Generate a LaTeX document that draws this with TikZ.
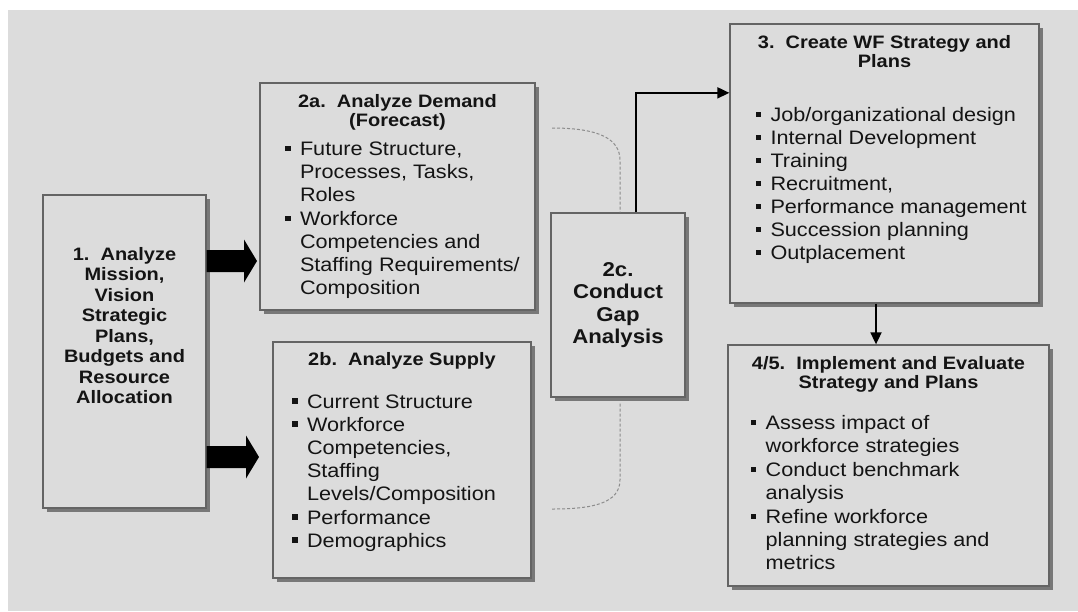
\documentclass[tikz,border=0pt]{standalone}
\usepackage{fontspec}
\setmainfont{Liberation Sans}[FakeStretch=1.11]
\usetikzlibrary{arrows.meta,calc,shadows}
\definecolor{bggray}{RGB}{220,220,220}
\definecolor{edgegray}{RGB}{100,100,100}
\definecolor{shadowgray}{RGB}{120,120,120}
\definecolor{dashgray}{RGB}{140,140,140}
\definecolor{inkgray}{RGB}{20,20,20}
\newcommand{\titlefont}{\fontsize{18}{19.5}\selectfont\bfseries}
\newcommand{\bodyfont}{\fontsize{19.5}{23}\selectfont}
\newcommand{\wfbullet}{\makebox[15pt][l]{\raisebox{4.2pt}{\rule{5.5pt}{5.5pt}}}}
\newcommand{\wfitem}[1]{\noindent\wfbullet\begin{tabular}[t]{@{}l@{}}#1\end{tabular}\par}
\begin{document}
\begin{tikzpicture}[x=1pt,y=-1pt,text=inkgray,
  wfbox/.style={draw=edgegray, line width=1.3pt, fill=bggray, inner sep=0pt,
    drop shadow={shadow xshift=4pt, shadow yshift=-4pt, fill=shadowgray, opacity=1}},
  flow/.style={draw=black, line width=1.8pt, -{Triangle[length=12pt,width=11pt]}},
  gapline/.style={draw=dashgray, line width=1pt, dash pattern=on 3pt off 2pt},
  bigarrow/.style={fill=black}]
\useasboundingbox (0,0) rectangle (1078,611);
\fill[white] (0,0) rectangle (1078,611);
\fill[bggray] (8,10) rectangle (1078,611);
% boxes
\node[wfbox] (mission) at (124.5,351.5) {\parbox[c][313pt][t]{163pt}{\titlefont\fontsize{18}{20.5}\selectfont\centering
  \rule{0pt}{65pt}1.\ \ Analyze\\Mission,\\Vision\\Strategic\\Plans,\\Budgets and\\Resource\\Allocation\par}};
\node[wfbox] (demand) at (397.5,196.5) {\parbox[c][227pt][t]{275pt}{%
  {\titlefont\centering\rule{0pt}{24pt}2a.\ \ Analyze Demand\\(Forecast)\par}
  \vspace{6pt}
  \bodyfont\raggedright\leftskip=25pt
  \wfitem{Future Structure,\\Processes, Tasks,\\Roles}
  \wfitem{Workforce\\Competencies and\\Staffing Requirements/\\Composition}}};
\node[wfbox] (supply) at (402,460) {\parbox[c][236pt][t]{258pt}{%
  {\titlefont\centering\rule{0pt}{23pt}2b.\ \ Analyze Supply\par}
  \vspace{20pt}
  \bodyfont\raggedright\leftskip=19pt
  \wfitem{Current Structure}
  \wfitem{Workforce\\Competencies,\\Staffing\\Levels/Composition}
  \wfitem{Performance}
  \wfitem{Demographics}}};
\node[wfbox, minimum width=134pt, minimum height=184pt, align=center,
  font=\fontsize{20}{22.5}\selectfont\bfseries] (gap) at (618,305) {2c.\\Conduct\\Gap\\Analysis};
\node[wfbox] (wf) at (884.5,163.5) {\parbox[c][279pt][t]{309pt}{%
  {\titlefont\centering\rule{0pt}{24pt}3.\ \ Create WF Strategy and\\Plans\par}
  \vspace{31pt}
  \bodyfont\raggedright\leftskip=25.5pt
  \wfitem{Job/organizational design}
  \wfitem{Internal Development}
  \wfitem{Training}
  \wfitem{Recruitment,}
  \wfitem{Performance management}
  \wfitem{Succession planning}
  \wfitem{Outplacement}}};
\node[wfbox] (impl) at (888.5,465.5) {\parbox[c][241pt][t]{321pt}{%
  {\titlefont\centering\rule{0pt}{24pt}4/5.\ \ Implement and Evaluate\\Strategy and Plans\par}
  \vspace{18pt}
  \bodyfont\raggedright\leftskip=22.7pt
  \wfitem{Assess impact of\\workforce strategies}
  \wfitem{Conduct benchmark\\analysis}
  \wfitem{Refine workforce\\planning strategies and\\metrics}}};
% connectors
\coordinate (t1) at (257,261);
\coordinate (t2) at (259,457);
\coordinate (d1) at (552,128);
\coordinate (d2) at (552,509);
\coordinate (w3) at ($(wf.south)+(-8.5,0)$);
\foreach \tip in {t1,t2}
  \fill[bigarrow] ($(mission.east |- \tip)+(0,-11)$) -- ($(\tip)+(-13,-11)$) -- ($(\tip)+(-13,-21.5)$)
  -- (\tip) -- ($(\tip)+(-13,21.5)$) -- ($(\tip)+(-13,11)$) -- ($(mission.east |- \tip)+(0,11)$) -- cycle;
\draw[flow] ([xshift=18pt]gap.north) |- ([yshift=-69.5pt]wf.north west);
\draw[flow] (w3) -- (w3 |- impl.north);
\draw[gapline] (d1) .. controls +(46,0) and +(0,-22) .. ($(gap.north)+(2,-52)$) -- ($(gap.north)+(2,0)$);
\draw[gapline] ($(gap.south)+(2,6)$) -- ($(gap.south)+(2,82)$) .. controls +(0,24) and +(40,0) .. (d2);
\end{tikzpicture}
\end{document}
